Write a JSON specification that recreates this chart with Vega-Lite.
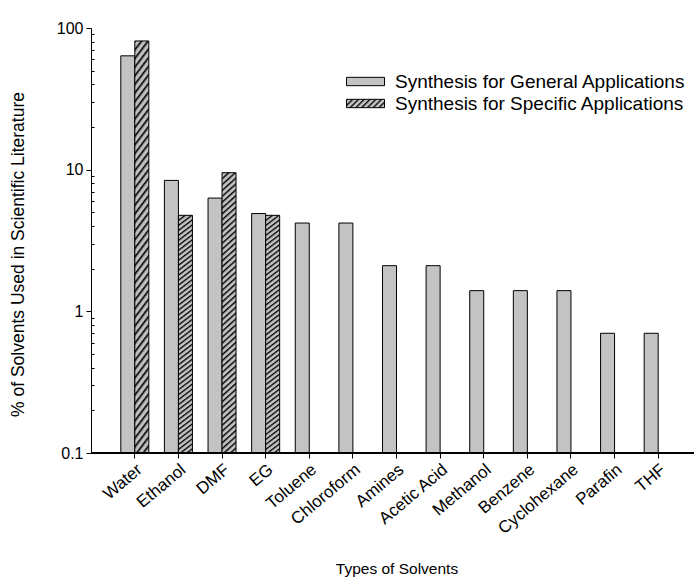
{
  "$schema": "https://vega.github.io/schema/vega-lite/v6.json",
  "width": 603,
  "height": 425,
  "autosize": "none",
  "padding": {"left": 91, "top": 28, "right": 0, "bottom": 126},
  "config": {
    "font": "Liberation Sans",
    "view": {"stroke": null},
    "axis": {"labelColor": "#000", "titleColor": "#000", "domainColor": "#000", "tickColor": "#000", "grid": false, "titleFontWeight": "normal"}
  },
  "data": {
    "values": [
      {"solvent": "Water", "series": "Synthesis for General Applications", "value": 63.6},
      {"solvent": "Water", "series": "Synthesis for Specific Applications", "value": 81.0},
      {"solvent": "Ethanol", "series": "Synthesis for General Applications", "value": 8.4},
      {"solvent": "Ethanol", "series": "Synthesis for Specific Applications", "value": 4.76},
      {"solvent": "DMF", "series": "Synthesis for General Applications", "value": 6.3},
      {"solvent": "DMF", "series": "Synthesis for Specific Applications", "value": 9.52},
      {"solvent": "EG", "series": "Synthesis for General Applications", "value": 4.9},
      {"solvent": "EG", "series": "Synthesis for Specific Applications", "value": 4.76},
      {"solvent": "Toluene", "series": "Synthesis for General Applications", "value": 4.2},
      {"solvent": "Chloroform", "series": "Synthesis for General Applications", "value": 4.2},
      {"solvent": "Amines", "series": "Synthesis for General Applications", "value": 2.1},
      {"solvent": "Acetic Acid", "series": "Synthesis for General Applications", "value": 2.1},
      {"solvent": "Methanol", "series": "Synthesis for General Applications", "value": 1.4},
      {"solvent": "Benzene", "series": "Synthesis for General Applications", "value": 1.4},
      {"solvent": "Cyclohexane", "series": "Synthesis for General Applications", "value": 1.4},
      {"solvent": "Parafin", "series": "Synthesis for General Applications", "value": 0.7},
      {"solvent": "THF", "series": "Synthesis for General Applications", "value": 0.7}
    ]
  },
  "layer": [
    {
      "mark": {"type": "bar", "stroke": "#000", "strokeWidth": 1},
      "encoding": {
        "x": {
          "field": "solvent", "type": "nominal", "sort": null,
          "scale": {"range": [22, 589], "paddingInner": 0, "paddingOuter": 0},
          "axis": {
            "title": "Types of Solvents", "titleFontSize": 15.5, "titleBaseline": "alphabetic", "titleY": 120,
            "domain": false, "tickSize": 5, "labelFontSize": 17, "labelAngle": -40, "labelAlign": "right", "labelBaseline": "top", "labelPadding": 3
          }
        },
        "xOffset": {"field": "series", "type": "nominal", "scale": {"paddingInner": 0, "paddingOuter": 0.557}},
        "y": {
          "field": "value", "type": "quantitative",
          "scale": {"type": "log", "domain": [0.1, 100], "nice": false},
          "axis": {
            "title": "% of Solvents Used in Scientific Literature", "titleFontSize": 17.5,
            "titleX": -73, "titleY": 226, "titleAlign": "center", "titleBaseline": "middle", "titleAngle": -90,
            "values": [0.1,0.2,0.3,0.4,0.5,0.6,0.7,0.8,0.9,1,2,3,4,5,6,7,8,9,10,20,30,40,50,60,70,80,90,100],
            "format": "~g",
            "labelExpr": "(datum.value == 0.1 || datum.value == 1 || datum.value == 10 || datum.value == 100) ? datum.label : ''",
            "labelOverlap": false, "labelFontSize": 16, "labelPadding": 3,
            "tickSize": {"condition": {"test": "datum.value == 0.1 || datum.value == 1 || datum.value == 10 || datum.value == 100", "value": 5}, "value": -3}
          }
        },
        "y2": {"datum": 0.1},
        "fill": {
          "field": "series", "type": "nominal",
          "scale": {"range": ["#c3c3c3", {"expr": "{gradient:'linear',x1:0,y1:0,x2:1.16,y2:0.255,stops:[{offset:0,color:'#000'},{offset:0.055,color:'#c0c0c0'},{offset:0.1,color:'#c0c0c0'},{offset:0.125,color:'#000'},{offset:0.18,color:'#c0c0c0'},{offset:0.225,color:'#c0c0c0'},{offset:0.25,color:'#000'},{offset:0.305,color:'#c0c0c0'},{offset:0.35,color:'#c0c0c0'},{offset:0.375,color:'#000'},{offset:0.43,color:'#c0c0c0'},{offset:0.475,color:'#c0c0c0'},{offset:0.5,color:'#000'},{offset:0.555,color:'#c0c0c0'},{offset:0.6,color:'#c0c0c0'},{offset:0.625,color:'#000'},{offset:0.68,color:'#c0c0c0'},{offset:0.725,color:'#c0c0c0'},{offset:0.75,color:'#000'},{offset:0.805,color:'#c0c0c0'},{offset:0.85,color:'#c0c0c0'},{offset:0.875,color:'#000'},{offset:0.93,color:'#c0c0c0'},{offset:1,color:'#c0c0c0'}]}"}]},
          "condition": {
            "test": "datum.series === 'Synthesis for Specific Applications'",
            "value": {
              "gradient": "linear", "x1": 0, "y1": 0, "x2": 0.047, "y2": 1.045,
              "stops": [
                {"offset":0,"color":"#000"},{"offset":0.008,"color":"#c0c0c0"},{"offset":0.015,"color":"#c0c0c0"},
                {"offset":0.02,"color":"#000"},{"offset":0.028,"color":"#c0c0c0"},{"offset":0.035,"color":"#c0c0c0"},
                {"offset":0.04,"color":"#000"},{"offset":0.048,"color":"#c0c0c0"},{"offset":0.055,"color":"#c0c0c0"},
                {"offset":0.06,"color":"#000"},{"offset":0.068,"color":"#c0c0c0"},{"offset":0.075,"color":"#c0c0c0"},
                {"offset":0.08,"color":"#000"},{"offset":0.088,"color":"#c0c0c0"},{"offset":0.095,"color":"#c0c0c0"},
                {"offset":0.10,"color":"#000"},{"offset":0.108,"color":"#c0c0c0"},{"offset":0.115,"color":"#c0c0c0"},
                {"offset":0.12,"color":"#000"},{"offset":0.128,"color":"#c0c0c0"},{"offset":0.135,"color":"#c0c0c0"},
                {"offset":0.14,"color":"#000"},{"offset":0.148,"color":"#c0c0c0"},{"offset":0.155,"color":"#c0c0c0"},
                {"offset":0.16,"color":"#000"},{"offset":0.168,"color":"#c0c0c0"},{"offset":0.175,"color":"#c0c0c0"},
                {"offset":0.18,"color":"#000"},{"offset":0.188,"color":"#c0c0c0"},{"offset":0.195,"color":"#c0c0c0"},
                {"offset":0.20,"color":"#000"},{"offset":0.208,"color":"#c0c0c0"},{"offset":0.215,"color":"#c0c0c0"},
                {"offset":0.22,"color":"#000"},{"offset":0.228,"color":"#c0c0c0"},{"offset":0.235,"color":"#c0c0c0"},
                {"offset":0.24,"color":"#000"},{"offset":0.248,"color":"#c0c0c0"},{"offset":0.255,"color":"#c0c0c0"},
                {"offset":0.26,"color":"#000"},{"offset":0.268,"color":"#c0c0c0"},{"offset":0.275,"color":"#c0c0c0"},
                {"offset":0.28,"color":"#000"},{"offset":0.288,"color":"#c0c0c0"},{"offset":0.295,"color":"#c0c0c0"},
                {"offset":0.30,"color":"#000"},{"offset":0.308,"color":"#c0c0c0"},{"offset":0.315,"color":"#c0c0c0"},
                {"offset":0.32,"color":"#000"},{"offset":0.328,"color":"#c0c0c0"},{"offset":0.335,"color":"#c0c0c0"},
                {"offset":0.34,"color":"#000"},{"offset":0.348,"color":"#c0c0c0"},{"offset":0.355,"color":"#c0c0c0"},
                {"offset":0.36,"color":"#000"},{"offset":0.368,"color":"#c0c0c0"},{"offset":0.375,"color":"#c0c0c0"},
                {"offset":0.38,"color":"#000"},{"offset":0.388,"color":"#c0c0c0"},{"offset":0.395,"color":"#c0c0c0"},
                {"offset":0.40,"color":"#000"},{"offset":0.408,"color":"#c0c0c0"},{"offset":0.415,"color":"#c0c0c0"},
                {"offset":0.42,"color":"#000"},{"offset":0.428,"color":"#c0c0c0"},{"offset":0.435,"color":"#c0c0c0"},
                {"offset":0.44,"color":"#000"},{"offset":0.448,"color":"#c0c0c0"},{"offset":0.455,"color":"#c0c0c0"},
                {"offset":0.46,"color":"#000"},{"offset":0.468,"color":"#c0c0c0"},{"offset":0.475,"color":"#c0c0c0"},
                {"offset":0.48,"color":"#000"},{"offset":0.488,"color":"#c0c0c0"},{"offset":0.495,"color":"#c0c0c0"},
                {"offset":0.50,"color":"#000"},{"offset":0.508,"color":"#c0c0c0"},{"offset":0.515,"color":"#c0c0c0"},
                {"offset":0.52,"color":"#000"},{"offset":0.528,"color":"#c0c0c0"},{"offset":0.535,"color":"#c0c0c0"},
                {"offset":0.54,"color":"#000"},{"offset":0.548,"color":"#c0c0c0"},{"offset":0.555,"color":"#c0c0c0"},
                {"offset":0.56,"color":"#000"},{"offset":0.568,"color":"#c0c0c0"},{"offset":0.575,"color":"#c0c0c0"},
                {"offset":0.58,"color":"#000"},{"offset":0.588,"color":"#c0c0c0"},{"offset":0.595,"color":"#c0c0c0"},
                {"offset":0.60,"color":"#000"},{"offset":0.608,"color":"#c0c0c0"},{"offset":0.615,"color":"#c0c0c0"},
                {"offset":0.62,"color":"#000"},{"offset":0.628,"color":"#c0c0c0"},{"offset":0.635,"color":"#c0c0c0"},
                {"offset":0.64,"color":"#000"},{"offset":0.648,"color":"#c0c0c0"},{"offset":0.655,"color":"#c0c0c0"},
                {"offset":0.66,"color":"#000"},{"offset":0.668,"color":"#c0c0c0"},{"offset":0.675,"color":"#c0c0c0"},
                {"offset":0.68,"color":"#000"},{"offset":0.688,"color":"#c0c0c0"},{"offset":0.695,"color":"#c0c0c0"},
                {"offset":0.70,"color":"#000"},{"offset":0.708,"color":"#c0c0c0"},{"offset":0.715,"color":"#c0c0c0"},
                {"offset":0.72,"color":"#000"},{"offset":0.728,"color":"#c0c0c0"},{"offset":0.735,"color":"#c0c0c0"},
                {"offset":0.74,"color":"#000"},{"offset":0.748,"color":"#c0c0c0"},{"offset":0.755,"color":"#c0c0c0"},
                {"offset":0.76,"color":"#000"},{"offset":0.768,"color":"#c0c0c0"},{"offset":0.775,"color":"#c0c0c0"},
                {"offset":0.78,"color":"#000"},{"offset":0.788,"color":"#c0c0c0"},{"offset":0.795,"color":"#c0c0c0"},
                {"offset":0.80,"color":"#000"},{"offset":0.808,"color":"#c0c0c0"},{"offset":0.815,"color":"#c0c0c0"},
                {"offset":0.82,"color":"#000"},{"offset":0.828,"color":"#c0c0c0"},{"offset":0.835,"color":"#c0c0c0"},
                {"offset":0.84,"color":"#000"},{"offset":0.848,"color":"#c0c0c0"},{"offset":0.855,"color":"#c0c0c0"},
                {"offset":0.86,"color":"#000"},{"offset":0.868,"color":"#c0c0c0"},{"offset":0.875,"color":"#c0c0c0"},
                {"offset":0.88,"color":"#000"},{"offset":0.888,"color":"#c0c0c0"},{"offset":0.895,"color":"#c0c0c0"},
                {"offset":0.90,"color":"#000"},{"offset":0.908,"color":"#c0c0c0"},{"offset":0.915,"color":"#c0c0c0"},
                {"offset":0.92,"color":"#000"},{"offset":0.928,"color":"#c0c0c0"},{"offset":0.935,"color":"#c0c0c0"},
                {"offset":0.94,"color":"#000"},{"offset":0.948,"color":"#c0c0c0"},{"offset":0.955,"color":"#c0c0c0"},
                {"offset":0.96,"color":"#000"},{"offset":0.968,"color":"#c0c0c0"},{"offset":0.975,"color":"#c0c0c0"},
                {"offset":0.98,"color":"#000"},{"offset":0.988,"color":"#c0c0c0"},{"offset":1,"color":"#c0c0c0"}
              ]
            }
          },
          "legend": {
            "title": null, "orient": "none", "legendX": 255, "legendY": 44,
            "labelFontSize": 19, "labelOffset": 10, "labelColor": "#000", "labelLimit": 500,
            "symbolType": "M-1,-0.22H1V0.22H-1Z", "symbolSize": 1444, "clipHeight": 19,
            "symbolStrokeWidth": 1, "symbolOpacity": 1, "rowPadding": 2
          }
        }
      }
    },
    {
      "mark": {"type": "rule", "color": "#000", "strokeWidth": 1},
      "encoding": {"y": {"datum": 0.1}}
    }
  ]
}
